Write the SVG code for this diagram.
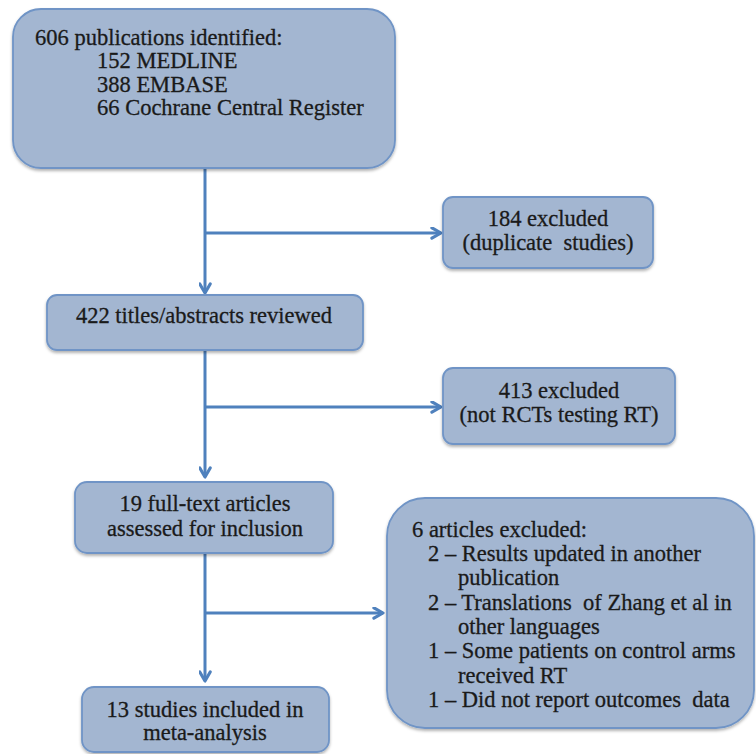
<svg xmlns="http://www.w3.org/2000/svg" width="756" height="754" viewBox="0 0 756 754">
<defs>
<style>
.box{fill:#a3b6d1;stroke:#6f94c6;stroke-width:1.8;filter:url(#sh)}
.t{font-family:"Liberation Serif","Times New Roman",serif;font-size:22.5px;fill:#1a1a1a;stroke:#1a1a1a;stroke-width:0.3}
.c{text-anchor:middle}
.conn{fill:none;stroke:#4f81bd;stroke-width:3}
</style>
<filter id="sh" x="-10%" y="-10%" width="120%" height="130%">
<feDropShadow dx="0" dy="2" stdDeviation="1.8" flood-color="#000" flood-opacity="0.3"/>
</filter>
<marker id="arr" viewBox="0 0 10 10" refX="8.5" refY="5" markerWidth="13" markerHeight="13" markerUnits="userSpaceOnUse" orient="auto">
<path d="M1.5,1 L8.5,5 L1.5,9" fill="none" stroke="#4f81bd" stroke-width="2.4" stroke-linecap="round" stroke-linejoin="round"/>
</marker>
</defs>
<rect width="756" height="754" fill="#fff"/>
<g id="connectors">
<path class="conn" d="M205,168 V293" marker-end="url(#arr)"/>
<path class="conn" d="M205,233 H441" marker-end="url(#arr)"/>
<path class="conn" d="M205,350 V477" marker-end="url(#arr)"/>
<path class="conn" d="M205,407 H441" marker-end="url(#arr)"/>
<path class="conn" d="M205,553 V681" marker-end="url(#arr)"/>
<path class="conn" d="M205,613 H383" marker-end="url(#arr)"/>
</g>
<g id="n1">
<rect class="box" x="13" y="9" width="382" height="159" rx="28"/>
<text class="t" x="35" y="45">606 publications identified:</text>
<text class="t" x="97" y="68">152 MEDLINE</text>
<text class="t" x="97" y="92">388 EMBASE</text>
<text class="t" x="97" y="115">66 Cochrane Central Register</text>
</g>
<g id="n2">
<rect class="box" x="443" y="197" width="210" height="71" rx="10"/>
<text class="t c" x="548" y="226">184 excluded</text>
<text class="t c" x="548" y="250" xml:space="preserve">(duplicate  studies)</text>
</g>
<g id="n3">
<rect class="box" x="47" y="295" width="316" height="55" rx="10"/>
<text class="t c" x="204" y="323">422 titles/abstracts reviewed</text>
</g>
<g id="n4">
<rect class="box" x="443" y="368" width="232" height="76" rx="10"/>
<text class="t c" x="559" y="398">413 excluded</text>
<text class="t c" x="559" y="422">(not RCTs testing RT)</text>
</g>
<g id="n5">
<rect class="box" x="75" y="482" width="258" height="71" rx="12"/>
<text class="t c" x="205" y="511">19 full-text articles</text>
<text class="t c" x="205" y="536">assessed for inclusion</text>
</g>
<g id="n6">
<rect class="box" x="387" y="498" width="367" height="230" rx="38"/>
<text class="t" x="412" y="537">6 articles excluded:</text>
<text class="t" x="428" y="561">2 – Results updated in another</text>
<text class="t" x="458" y="585">publication</text>
<text class="t" x="428" y="610" xml:space="preserve">2 – Translations  of Zhang et al in</text>
<text class="t" x="458" y="634">other languages</text>
<text class="t" x="428" y="658">1 – Some patients on control arms</text>
<text class="t" x="458" y="683">received RT</text>
<text class="t" x="428" y="707" xml:space="preserve">1 – Did not report outcomes  data</text>
</g>
<g id="n7">
<rect class="box" x="82" y="687" width="247" height="65" rx="12"/>
<text class="t c" x="205" y="717">13 studies included in</text>
<text class="t c" x="205" y="740">meta-analysis</text>
</g>
</svg>
